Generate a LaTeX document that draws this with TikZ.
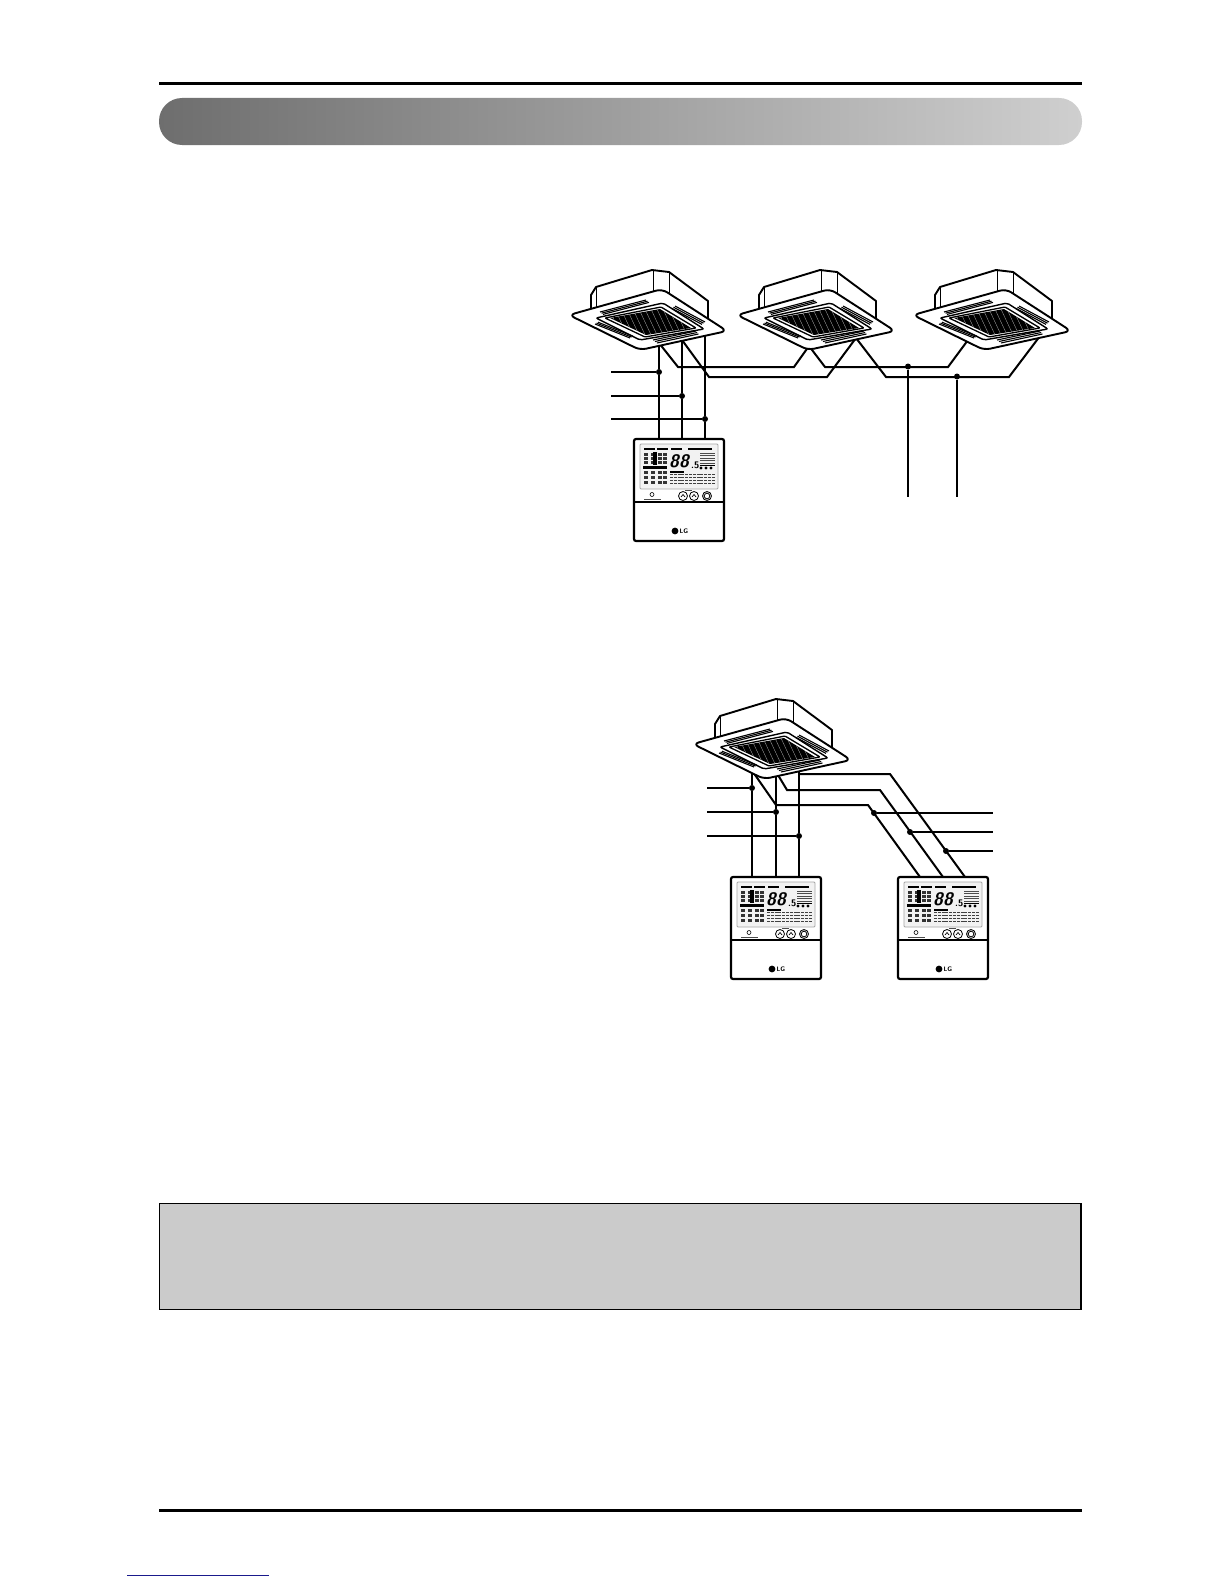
\documentclass[tikz,border=0pt]{standalone}
\definecolor{barleft}{HTML}{6E6E6E}
\definecolor{barright}{HTML}{CFCFCF}
\definecolor{notegray}{HTML}{CBCBCB}
\definecolor{linkblue}{HTML}{1A1A8C}
\tikzset{
  cassette/.pic = {
    % ceiling box behind the panel
    \draw [unitline, fill=white] (19,8) -- (19,-20) -- (24,-28) -- (80,-45) -- (97,-43) -- (136,-14) -- (136,12);
    \draw [line width=.9pt] (24,-28) -- (24,-6) (81,-45) -- (81,-22) (97,-43) -- (97,-20);
    \draw [unitline, fill=white, rounded corners=6pt] (-3,0) -- (90,-26) -- (155,16) -- (68,35) -- cycle;
    % grille frames
    \draw [line width=1.4pt, rounded corners=2pt] (24,3) -- (91,-12) -- (132,14) -- (68,25) -- cycle;
    \draw [line width=1.3pt, rounded corners=1pt] (33,3) -- (89,-8) -- (124,13) -- (73,22) -- cycle;
    \begin{scope}
      \clip (38,3) -- (88,-6) -- (119,13) -- (74,20) -- cycle;
      \fill [black] (30,-10) rectangle (125,25);
      \foreach \x in {36,42,...,106}
        \draw [white!70!black, line width=.3pt] (\x,-8) -- (\x+14,22);
    \end{scope}
    % vent slats
    \foreach \t in {0,1.5,3}{
      \draw [line width=1.1pt] (28+\t,-3+\t*.8) -- (74+\t,-15+\t*.8);
      \draw [line width=1.1pt] (103-\t,-9+\t*.8) -- (133-\t,7+\t*.8);
      \draw [line width=1.1pt] (23+\t,9-\t*.6) -- (58+\t,23-\t*.6);
      \draw [line width=1.1pt] (81+\t*1.3,25+\t) -- (124+\t*.8,16+\t);
    }
  },
  remote/.pic = {
    \draw [fill=white, line width=2.2pt, rounded corners=2pt] (0,0) rectangle (90,102);
    \draw [line width=1.7pt] (0,63) -- (90,63);
    \draw [gray!70, fill=gray!10, line width=.8pt, rounded corners=1pt] (6,5) rectangle (84,50);
    % display segments
    \foreach \x/\w in {10/11,23/11,37/11,54/24}
      \fill [black] (\x,8.5) rectangle +(\w,2.5);
    \fill [black] (9,27) rectangle (33,30);
    \foreach \x in {10,17,24,29}
      \foreach \y in {14,18,22,32,37,42}
        \fill [black!80] (\x,\y) rectangle +(4,2.8);
    \fill [black] (19,13) rectangle (23,26);
    \foreach \y in {14,16.5,19,21.5,24}
      \draw [black!70, line width=1pt] (66,\y) -- (81,\y);
    \foreach \x in {67,72,77}
      \fill [black] (\x,29) circle (1.6);
    \fill [black] (66,26) rectangle (81,27);
    \foreach \y in {35,38,41,44}
      \draw [black!75, line width=1pt, dash pattern=on 3pt off .8pt] (36,\y) -- (81,\y);
    \fill [black] (36,32) rectangle (50,34);
    \node [lcdfont, anchor=west, inner sep=0pt] (digits) at (35,22) {88};
    \node [lcdsmall, anchor=south west, inner sep=0pt] (tenth) at (57,30) {.5};
    % keys
    \draw [line width=.6pt] (18,55.5) circle (2);
    \draw [black!70, line width=.9pt] (10,60) -- (27,60);
    \draw [line width=.8pt] (49,57) circle (4.5) (60,57) circle (4.5);
    \draw [line width=.8pt] (73,57) circle (4.5) circle (2.8);
    \draw [line width=.7pt] (47,58) -- (49,55.5) -- (51,58) (58,58) -- (60,55.5) -- (62,58);
    \draw [black!70, line width=.8pt] (51,51) -- (58,51);
    % badge
    \fill [black] (41,92) circle (3.4);
    \node [lgfont, anchor=west, inner sep=0pt] (lg) at (45.5,92) {LG};
  }
}
\begin{document}
\begin{tikzpicture}
  [
    x = 1pt, y = -1pt,
    unitline/.style = {line width=1.9pt, line join=round},
    wire/.style     = {line width=2pt, line join=miter},
    thickwire/.style= {line width=2.8pt},
    thinwire/.style = {line width=1.6pt},
    dot/.style      = {circle, fill=black, inner sep=0pt, minimum size=6pt},
    lcdfont/.style  = {font=\fontsize{18}{18}\sffamily\bfseries\itshape},
    lcdsmall/.style = {font=\fontsize{9.5}{9.5}\sffamily\bfseries},
    lgfont/.style   = {font=\fontsize{6.5}{6.5}\sffamily\bfseries}
  ]
 \useasboundingbox (0,0) rectangle (1224,1584);
 % page furniture
 \draw [line width=3pt] (159,83.5) -- (1082,83.5);
 \shade [left color=barleft, right color=barright, rounded corners=23pt] (159,98) rectangle (1082,145);
 \draw [fill=notegray, line width=1pt] (159,1203.5) rectangle (1081,1309.5);
 \draw [line width=2pt] (1081,1203) -- (1081,1310);
 \draw [line width=3pt] (159,1510.5) -- (1082,1510.5);
 \draw [linkblue, line width=1pt] (127,1575) -- (269,1575);

 % upper group: three units, one controller
 \coordinate (uTopA) at (659,340);
 \coordinate (uTopB) at (682,340);
 \coordinate (uTopC) at (705,335);
 \coordinate (uRemA) at (659,439);
 \coordinate (uRemB) at (682,439);
 \coordinate (uRemC) at (705,439);
 \coordinate (uInA) at (611,372);
 \coordinate (uInB) at (611,396);
 \coordinate (uInC) at (611,419);
 \node [dot] (uDotA) at (659,372) {};
 \node [dot] (uDotB) at (682,396) {};
 \node [dot] (uDotC) at (705,419) {};
 \draw [wire] (uInA) -- (uDotA);
 \draw [wire] (uInB) -- (uDotB);
 \draw [thickwire] (uInC) -- (uDotC);
 \draw [wire] (uTopA) -- (uDotA) -- (uRemA);
 \draw [wire] (uTopB) -- (uDotB) -- (uRemB);
 \draw [wire] (uTopC) -- (uDotC) -- (uRemC);

 \coordinate (busStartA) at (659,343);
 \coordinate (busA1) at (678,367);
 \coordinate (busA2) at (794,367);
 \coordinate (busA3) at (809,346);
 \coordinate (busA4) at (825,367);
 \coordinate (busA5) at (948,367);
 \coordinate (busA6) at (968,340);
 \coordinate (busStartB) at (682,340);
 \coordinate (busB1) at (709,377);
 \coordinate (busB2) at (827,377);
 \coordinate (busB3) at (856,338);
 \coordinate (busB4) at (886,377);
 \coordinate (busB5) at (1009,377);
 \coordinate (busB6) at (1040,336);
 \node [dot] (tapA) at (908,366.5) {};
 \node [dot] (tapB) at (957,376.5) {};
 \coordinate (tailA) at (908,497);
 \coordinate (tailB) at (957,497);
 \draw [wire] (busStartA) -- (busA1) -- (busA2) -- (busA3) -- (busA4) -- (busA5) -- (busA6);
 \draw [wire] (busStartB) -- (busB1) -- (busB2) -- (busB3) -- (busB4) -- (busB5) -- (busB6);
 \draw [thickwire] (tapA) -- (tailA);
 \draw [thinwire] (tapB) -- (tailB);

 % lower group: one unit, two controllers
 \coordinate (lTopA) at (752,770);
 \coordinate (lTopB) at (776,770);
 \coordinate (lTopC) at (799,770);
 \coordinate (lRemA) at (752,877);
 \coordinate (lRemB) at (776,877);
 \coordinate (lRemC) at (799,877);
 \coordinate (lInA) at (707,788);
 \coordinate (lInB) at (707,812);
 \coordinate (lInC) at (707,836);
 \node [dot] (lDotA) at (752,788) {};
 \node [dot] (lDotB) at (776,812) {};
 \node [dot] (lDotC) at (799,836) {};
 \draw [wire] (lInA) -- (lDotA);
 \draw [wire] (lInB) -- (lDotB);
 \draw [wire] (lInC) -- (lDotC);
 \draw [wire] (lTopA) -- (lDotA) -- (lRemA);
 \draw [wire] (lTopB) -- (lDotB) -- (lRemB);
 \draw [wire] (lTopC) -- (lDotC) -- (lRemC);

 \coordinate (runStartA) at (753,772);
 \coordinate (runA1) at (776,805);
 \coordinate (runA2) at (868,805);
 \coordinate (runEndA) at (920,877);
 \coordinate (runStartB) at (778,775);
 \coordinate (runB1) at (787,790);
 \coordinate (runB2) at (880,790);
 \coordinate (runEndB) at (943,877);
 \coordinate (runStartC) at (799,774);
 \coordinate (runC1) at (890,774);
 \coordinate (runEndC) at (965,877);
 \draw [wire] (runStartA) -- (runA1) -- (runA2) -- (runEndA);
 \draw [wire] (runStartB) -- (runB1) -- (runB2) -- (runEndB);
 \draw [wire] (runStartC) -- (runC1) -- (runEndC);
 \node [dot] (lTapA) at (874,813) {};
 \node [dot] (lTapB) at (910,832) {};
 \node [dot] (lTapC) at (946,851) {};
 \coordinate (lOutA) at (993,813);
 \coordinate (lOutB) at (993,832);
 \coordinate (lOutC) at (993,851);
 \draw [thickwire] (lTapA) -- (lOutA);
 \draw [wire] (lTapB) -- (lOutB);
 \draw [wire] (lTapC) -- (lOutC);

 % units and controllers on top of the wire ends
 \foreach \ux/\uy in {572/315, 740/315, 916/315, 696/744}
   \pic at (\ux,\uy) {cassette};
 \foreach \rx/\ry in {634/439, 731/877, 898/877}
   \pic at (\rx,\ry) {remote};
\end{tikzpicture}
\end{document}
